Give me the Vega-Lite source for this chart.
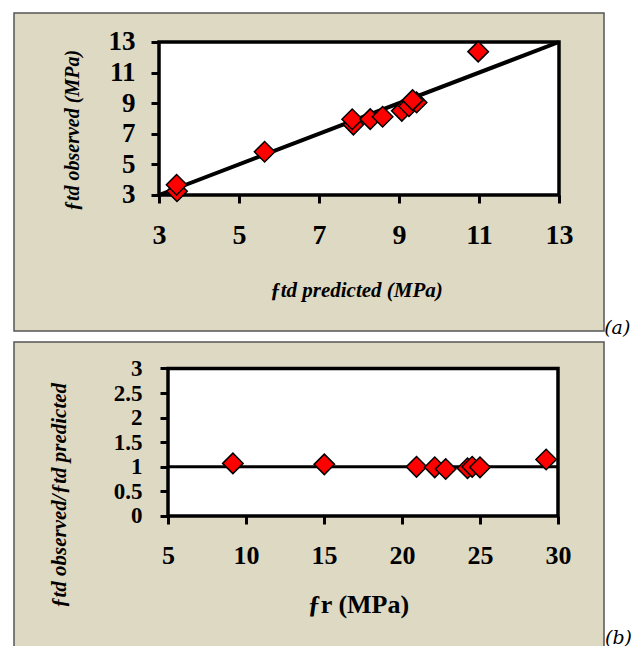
{
  "$schema": "https://vega.github.io/schema/vega-lite/v6.json",
  "background": "white",
  "padding": {"left": 13, "top": 12, "right": 0, "bottom": 0},
  "spacing": 2,
  "config": {
    "view": {"fill": "#ddd9c3", "stroke": "#555555", "strokeWidth": 1.5},
    "axis": {
      "grid": false, "domain": false, "tickColor": "black", "tickWidth": 3, "tickSize": 8,
      "labelColor": "black", "labelFont": "Liberation Serif", "labelFontWeight": "bold",
      "titleFont": "Liberation Serif", "titleColor": "black", "labelFlush": false, "labelOverlap": false,
      "titleAlign": "center", "titleBaseline": "middle"
    }
  },
  "vconcat": [
    {
      "width": 590, "height": 318,
      "title": {"text": "(a)", "orient": "right", "anchor": "end", "angle": 0, "align": "left", "baseline": "alphabetic", "dy": 3, "font": "DejaVu Serif", "fontStyle": "italic", "fontWeight": "normal", "fontSize": 19, "color": "black", "offset": -26},
      "encoding": {
        "x": {"field": "x", "type": "quantitative",
          "scale": {"domain": [-0.625, 14.125], "nice": false, "zero": false},
          "axis": {"values": [3, 5, 7, 9, 11, 13], "offset": -136, "labelFontSize": 28, "labelPadding": 18,
            "title": "ƒtd predicted (MPa)", "titleFontSize": 21, "titleFontStyle": "italic", "titleFontWeight": "bold",
            "titleX": 342, "titleY": 95, "titleAngle": 0}},
        "y": {"field": "y", "type": "quantitative",
          "scale": {"domain": [-5.889, 14.895], "nice": false, "zero": false},
          "axis": {"values": [3, 5, 7, 9, 11, 13], "offset": -145, "labelFontSize": 27, "labelPadding": 16,
            "title": "ƒtd observed (MPa)", "titleFontSize": 20, "titleFontStyle": "italic", "titleFontWeight": "bold",
            "titleX": -87, "titleY": 117, "titleAngle": -90}}
      },
      "layer": [
        {
          "data": {"values": [{"x": 3, "x2": 13, "y": 3, "y2": 13}]},
          "mark": {"type": "rect", "fill": "white", "stroke": "black", "strokeWidth": 3.5},
          "encoding": {"x2": {"field": "x2"}, "y2": {"field": "y2"}}
        },
        {
          "data": {"values": [{"x": 3, "y": 3}, {"x": 13, "y": 13}]},
          "mark": {"type": "line", "color": "black", "strokeWidth": 4}
        },
        {
          "data": {"values": [
            {"x": 3.45, "y": 3.25},
            {"x": 3.44, "y": 3.67},
            {"x": 5.64, "y": 5.83},
            {"x": 7.86, "y": 7.6},
            {"x": 7.83, "y": 7.95},
            {"x": 8.28, "y": 7.96},
            {"x": 8.59, "y": 8.11},
            {"x": 9.07, "y": 8.5},
            {"x": 9.25, "y": 8.8},
            {"x": 9.44, "y": 9.05},
            {"x": 9.34, "y": 9.2},
            {"x": 10.98, "y": 12.37}
          ]},
          "mark": {"type": "point", "shape": "diamond", "filled": true, "fill": "#ff0000", "stroke": "black", "strokeWidth": 1.5, "size": 420, "opacity": 1}
        }
      ]
    },
    {
      "width": 590, "height": 306,
      "title": {"text": "(b)", "orient": "right", "anchor": "end", "angle": 0, "align": "left", "baseline": "alphabetic", "dy": -4, "font": "DejaVu Serif", "fontStyle": "italic", "fontWeight": "normal", "fontSize": 19, "color": "black", "offset": -26},
      "encoding": {
        "x": {"field": "x", "type": "quantitative",
          "scale": {"domain": [-4.872, 32.949], "nice": false, "zero": false},
          "axis": {"values": [5, 10, 15, 20, 25, 30], "offset": -132, "labelFontSize": 26, "labelPadding": 18,
            "title": "ƒr (MPa)", "titleFontSize": 26, "titleFontWeight": "bold",
            "titleX": 344, "titleY": 88, "titleAngle": 0}},
        "y": {"field": "y", "type": "quantitative",
          "scale": {"domain": [-2.685, 3.539], "nice": false, "zero": false},
          "axis": {"values": [0, 0.5, 1, 1.5, 2, 2.5, 3], "format": ".2~g", "offset": -154, "labelFontSize": 23, "labelPadding": 18,
            "title": "ƒtd observed/ƒtd predicted", "titleFontSize": 21, "titleFontStyle": "italic", "titleFontWeight": "bold",
            "titleX": -109, "titleY": 153, "titleAngle": -90}}
      },
      "layer": [
        {
          "data": {"values": [{"x": 5, "x2": 30, "y": 0, "y2": 3}]},
          "mark": {"type": "rect", "fill": "white", "stroke": "black", "strokeWidth": 3.5},
          "encoding": {"x2": {"field": "x2"}, "y2": {"field": "y2"}}
        },
        {
          "data": {"values": [{"x": 5, "x2": 30, "y": 1}]},
          "mark": {"type": "rule", "color": "black", "strokeWidth": 3},
          "encoding": {"x2": {"field": "x2"}}
        },
        {
          "data": {"values": [
            {"x": 9.16, "y": 1.07},
            {"x": 15.02, "y": 1.05},
            {"x": 20.93, "y": 1.0},
            {"x": 22.1, "y": 0.99},
            {"x": 22.8, "y": 0.955},
            {"x": 24.2, "y": 0.97},
            {"x": 24.5, "y": 1.0},
            {"x": 25.0, "y": 0.99},
            {"x": 29.24, "y": 1.15}
          ]},
          "mark": {"type": "point", "shape": "diamond", "filled": true, "fill": "#ff0000", "stroke": "black", "strokeWidth": 1.5, "size": 420, "opacity": 1}
        }
      ]
    }
  ]
}
